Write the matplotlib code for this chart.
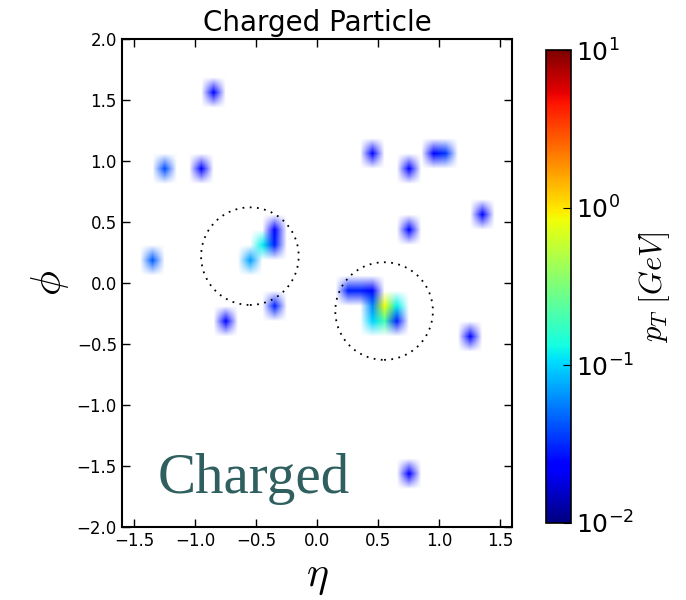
import numpy as np
import matplotlib
matplotlib.use("Agg")
import matplotlib.pyplot as plt
from matplotlib.colors import LogNorm
from matplotlib.patches import Circle

plt.rcParams['mathtext.fontset'] = 'cm'

# Charged-particle deposits: (eta, phi, pT in GeV)
eta = [-0.85, -1.25, -0.95, -1.35, -0.75, -0.35,
       0.45, 0.75, 0.95, 1.05, 0.75, 1.35, 1.25, 0.75,
       -0.55, -0.45, -0.35, -0.35,
       0.25, 0.35, 0.45, 0.45, 0.55, 0.65, 0.45, 0.55, 0.65]
phi = [1.5625, 0.9375, 0.9375, 0.1875, -0.3125, -0.1875,
       1.0625, 0.9375, 1.0625, 1.0625, 0.4375, 0.5625, -0.4375, -1.5625,
       0.1875, 0.3125, 0.3125, 0.4375,
       -0.0625, -0.0625, -0.0625, -0.1875, -0.1875, -0.1875, -0.3125, -0.3125, -0.3125]
pt = [0.025, 0.04, 0.025, 0.045, 0.025, 0.03,
      0.025, 0.025, 0.025, 0.035, 0.025, 0.025, 0.025, 0.022,
      0.07, 0.12, 0.03, 0.025,
      0.03, 0.03, 0.025, 0.06, 0.8, 0.12, 0.1, 0.2, 0.03]

# Jet axes (eta, phi) and cone radius
jet_eta = [-0.55, 0.55]
jet_phi = [0.22, -0.23]
jet_R = 0.4

n_eta, n_phi = 32, 32
eta_range = (-1.6, 1.6)
phi_range = (-2.0, 2.0)

H, xe, ye = np.histogram2d(eta, phi, bins=[n_eta, n_phi],
                           range=[eta_range, phi_range], weights=pt)
img = np.ma.masked_equal(H.T, 0.0)

# empty cells render as white so the smoothing fades each deposit into the background
cmap = plt.get_cmap('jet').copy()
cmap.set_bad('white')

fig = plt.figure(figsize=(6.86, 6.0), dpi=100)
ax = fig.add_axes([121/686, 73/600, 392/686, 488/600])
cax = fig.add_axes([546/686, 77/600, 25/686, 473/600])

im = ax.imshow(img, origin='lower', cmap=cmap,
               norm=LogNorm(vmin=1e-2, vmax=1e1),
               extent=[xe[0], xe[-1], ye[0], ye[-1]],
               interpolation='bilinear', interpolation_stage='rgba',
               aspect='equal')

for je, jp in zip(jet_eta, jet_phi):
    ax.add_patch(Circle((je, jp), jet_R, fill=False, edgecolor='black',
                        linewidth=1.3, linestyle=(0, (1, 3))))

ax.set_xlim(*eta_range)
ax.set_ylim(*phi_range)
ax.set_xticks([-1.5, -1.0, -0.5, 0.0, 0.5, 1.0, 1.5])
ax.set_yticks(np.arange(-2.0, 2.01, 0.5))
ax.tick_params(direction='in', top=True, right=True, length=6, width=1,
               labelsize=12)
for s in ax.spines.values():
    s.set_linewidth(1.5)

ax.set_title('Charged Particle', fontsize=20)
ax.set_xlabel(r'$\eta$', fontsize=30)
ax.set_ylabel(r'$\phi$', fontsize=30)
ax.text(-1.31, -1.72, 'Charged', family='Liberation Serif', fontsize=41,
        color='#2f5f5f')

cb = fig.colorbar(im, cax=cax)
cb.ax.tick_params(which='major', direction='in', length=6, labelsize=18)
cb.ax.tick_params(which='minor', length=0)
cb.outline.set_linewidth(1.2)
cb.set_label(r'$p_T\ [GeV]$', fontsize=22, labelpad=2)

fig.savefig('out.png', dpi=100)
